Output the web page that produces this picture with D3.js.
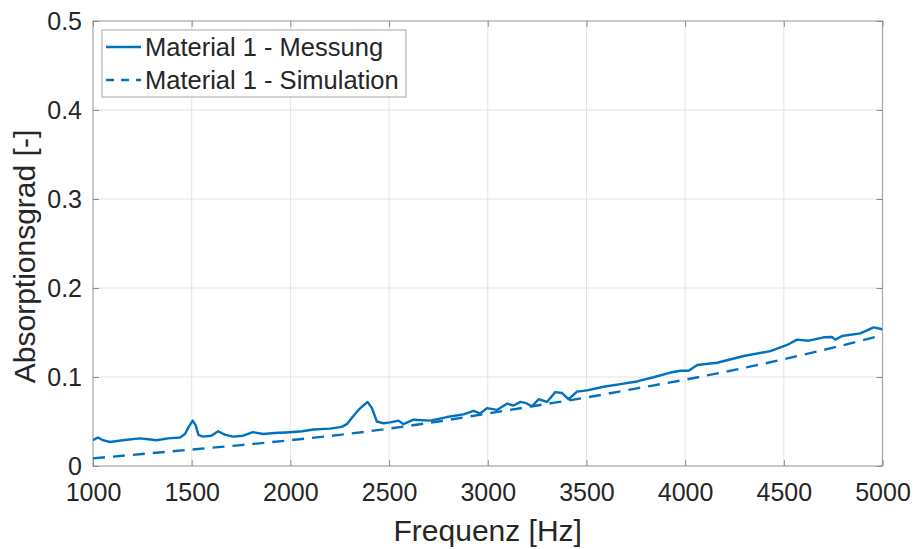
<!DOCTYPE html>
<html><head><meta charset="utf-8">
<script src="https://cdn.jsdelivr.net/npm/d3@7"></script>
<style>body{margin:0;background:#fff}svg{display:block}text{font-family:"Liberation Sans",Arial,sans-serif;fill:#262626}</style>
</head><body>
<script>
const xTicks=[1000,1500,2000,2500,3000,3500,4000,4500,5000];
const yTicks=[0,0.1,0.2,0.3,0.4,0.5];
const yTickLabels=["0","0.1","0.2","0.3","0.4","0.5"];
const seriesNames=["Material 1 - Messung","Material 1 - Simulation"];
const measFreq=[1000,1025,1050,1086,1150,1237,1280,1322,1380,1441,1466,1485,1505,1520,1534,1558,1600,1634,1670,1710,1760,1811,1862,1920,1999,2060,2117,2201,2260,2286,2311,2345,2370,2391,2413,2438,2472,2506,2548,2573,2624,2708,2793,2877,2928,2962,2996,3047,3097,3131,3165,3190,3224,3258,3300,3342,3376,3410,3452,3503,3587,3672,3756,3840,3925,3977,4018,4061,4162,4297,4432,4517,4567,4626,4702,4744,4761,4795,4888,4955,5000];
const measVal=[0.029,0.032,0.029,0.027,0.029,0.031,0.030,0.029,0.031,0.032,0.036,0.044,0.051,0.046,0.035,0.033,0.034,0.039,0.035,0.033,0.034,0.038,0.036,0.037,0.038,0.039,0.041,0.042,0.044,0.047,0.054,0.063,0.068,0.072,0.065,0.050,0.048,0.049,0.051,0.047,0.052,0.051,0.055,0.058,0.062,0.059,0.065,0.063,0.070,0.068,0.072,0.071,0.067,0.075,0.072,0.083,0.082,0.075,0.0835,0.085,0.089,0.092,0.095,0.0997,0.105,0.107,0.107,0.1135,0.116,0.1236,0.129,0.136,0.142,0.1408,0.1446,0.145,0.142,0.146,0.149,0.1558,0.1536];
const simFreq=[1000,1250,1500,1750,2000,2250,2500,2750,3000,3250,3500,3750,4000,4250,4500,4750,5000];
const simVal=[0.0086,0.0135,0.0185,0.0235,0.029,0.035,0.042,0.050,0.059,0.068,0.077,0.087,0.097,0.108,0.120,0.133,0.147];

const W=916,H=549,L=93,R=882.5,T=21,B=466;
const svg=d3.select("body").append("svg").attr("width",W).attr("height",H);
const x=d3.scaleLinear().domain([1000,5000]).range([L,R]);
const y=d3.scaleLinear().domain([0,0.5]).range([B,T]);
const col="#0072BD";
// grid
svg.append("g").selectAll("line").data(xTicks.slice(1,-1)).join("line")
 .attr("x1",d=>x(d)).attr("x2",d=>x(d)).attr("y1",T).attr("y2",B).attr("stroke","#e3e3e3").attr("stroke-width",1);
svg.append("g").selectAll("line").data(yTicks.slice(1,-1)).join("line")
 .attr("y1",d=>y(d)).attr("y2",d=>y(d)).attr("x1",L).attr("x2",R).attr("stroke","#e3e3e3").attr("stroke-width",1);
// box
svg.append("rect").attr("x",L).attr("y",T).attr("width",R-L).attr("height",B-T).attr("fill","none").attr("stroke","#a6a6a6").attr("stroke-width",1.2);
// axes
const xa=svg.append("g").attr("transform",`translate(0,${B})`).call(d3.axisBottom(x).tickValues(xTicks).tickSizeInner(-6).tickSizeOuter(0).tickPadding(17).tickFormat(d3.format("d")));
const ya=svg.append("g").attr("transform",`translate(${L},0)`).call(d3.axisLeft(y).tickValues(yTicks).tickSizeInner(-6).tickSizeOuter(0).tickPadding(11).tickFormat((d,i)=>yTickLabels[i]));
const xa2=svg.append("g").attr("transform",`translate(0,${T})`).call(d3.axisTop(x).tickValues(xTicks).tickSizeInner(-6).tickSizeOuter(0).tickFormat(""));
const ya2=svg.append("g").attr("transform",`translate(${R},0)`).call(d3.axisRight(y).tickValues(yTicks).tickSizeInner(-6).tickSizeOuter(0).tickFormat(""));
[xa,ya,xa2,ya2].forEach(g=>{g.select(".domain").remove();g.selectAll("line").attr("stroke","#8c8c8c");g.selectAll("text").attr("font-size",25).attr("fill","#262626").attr("font-family","Liberation Sans, Arial, sans-serif");});
xa.selectAll("text").attr("dy","0.72em");
// lines
const line=d3.line().x(d=>x(d[0])).y(d=>y(d[1]));
const clip=svg.append("clipPath").attr("id","c").append("rect").attr("x",L).attr("y",T).attr("width",R-L).attr("height",B-T);
svg.append("path").datum(measFreq.map((f,i)=>[f,measVal[i]])).attr("d",line).attr("fill","none").attr("stroke",col).attr("stroke-width",2.4).attr("stroke-linejoin","round").attr("clip-path","url(#c)");
svg.append("path").datum(simFreq.map((f,i)=>[f,simVal[i]])).attr("d",d3.line().x(d=>x(d[0])).y(d=>y(d[1])).curve(d3.curveMonotoneX)).attr("fill","none").attr("stroke",col).attr("stroke-width",2.4).attr("stroke-dasharray","12,8").attr("clip-path","url(#c)");
// labels
svg.append("text").attr("x",(L+R)/2).attr("y",541).attr("text-anchor","middle").attr("font-size",30).text("Frequenz [Hz]");
svg.append("text").attr("transform",`translate(35,${(T+B)/2+13}) rotate(-90)`).attr("text-anchor","middle").attr("font-size",30).text("Absorptionsgrad [-]");
// legend
const lg=svg.append("g");
lg.append("rect").attr("x",102).attr("y",30).attr("width",304).attr("height",67).attr("fill","#fff").attr("stroke","#a6a6a6").attr("stroke-width",1);
seriesNames.forEach((n,i)=>{
  const yy=47+i*33;
  lg.append("line").attr("x1",106).attr("x2",141).attr("y1",yy).attr("y2",yy).attr("stroke",col).attr("stroke-width",2.4).attr("stroke-dasharray",i?"8,7":null);
  lg.append("text").attr("x",145).attr("y",yy+9).attr("font-size",25.5).attr("fill","#000").text(n);
});
</script>
</body></html>
